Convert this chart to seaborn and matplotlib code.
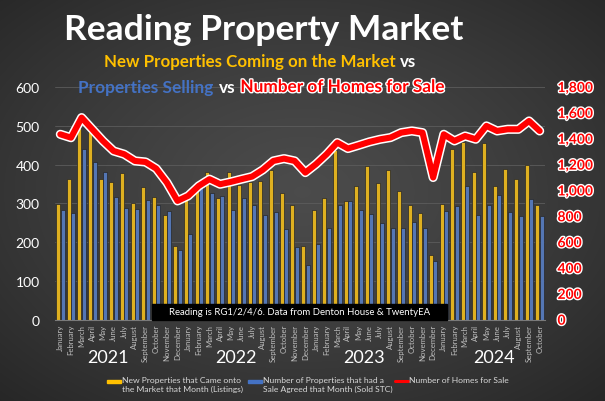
import numpy as np
import pandas as pd
import seaborn as sns
import matplotlib.pyplot as plt
import matplotlib.patheffects as pe
from matplotlib.patches import Rectangle
from matplotlib.lines import Line2D

years = [2021, 2022, 2023, 2024]
month_names = ['January', 'February', 'March', 'April', 'May', 'June', 'July',
               'August', 'September', 'October', 'November', 'December']
year_months = [12, 12, 12, 10]

listings = [299, 363, 493, 484, 363, 355, 379, 301, 343, 316, 271, 189,
            310, 346, 382, 314, 381, 348, 355, 357, 385, 327, 296, 189,
            283, 314, 437, 305, 346, 396, 352, 387, 331, 296, 275, 167,
            298, 441, 458, 381, 456, 345, 388, 362, 398, 296]
sold_stc = [282, 275, 439, 407, 381, 316, 288, 286, 309, 295, 281, 181,
            220, 344, 327, 319, 283, 314, 297, 271, 277, 233, 187, 142,
            196, 237, 297, 305, 283, 273, 250, 236, 236, 251, 236, 152,
            281, 294, 346, 270, 296, 322, 277, 268, 310, 268]
homes_for_sale = [1434, 1408, 1563, 1473, 1383, 1305, 1280, 1228, 1220, 1169, 1061, 919,
                  958, 1035, 1087, 1048, 1066, 1087, 1107, 1159, 1228, 1246, 1228, 1138,
                  1203, 1280, 1370, 1324, 1349, 1375, 1395, 1409, 1447, 1460, 1447, 1100,
                  1434, 1383, 1421, 1396, 1499, 1460, 1473, 1473, 1537, 1460]

keys = [f"{y}-{m + 1:02d}" for y, n in zip(years, year_months) for m in range(n)]
tick_labels = [month_names[m] for n in year_months for m in range(n)]

YELLOW = '#FFC000'
BLUE = '#4472C4'
RED = '#FF0000'

sns.set_theme(style='dark')
plt.rcParams['font.family'] = ['Lato', 'DejaVu Sans']

fig = plt.figure(figsize=(6.05, 4.02), dpi=100)
W, H = 605, 402

# background radial gradient
bg = fig.add_axes([0, 0, 1, 1], zorder=-10)
yy, xx = np.mgrid[0:1:402j, 0:1:605j]
d = np.sqrt(((xx - 0.5) / 0.75) ** 2 + ((yy - 0.48) / 0.75) ** 2)
d = np.clip(d, 0, 1)
shade = 0.295 - 0.15 * d ** 1.3
bg.imshow(np.dstack([shade] * 3), extent=[0, 1, 0, 1], aspect='auto')
bg.axis('off')

ax = fig.add_axes([55 / W, 1 - 320.7 / H, 490 / W, 232.7 / H])
ax.patch.set_alpha(0)

df = pd.DataFrame({'month': keys * 2,
                   'value': listings + sold_stc,
                   'series': ['Listings'] * len(keys) + ['Sold STC'] * len(keys)})
sns.barplot(data=df, x='month', y='value', hue='series', order=keys,
            palette=[YELLOW, BLUE], width=0.84, gap=0.1,
            edgecolor='#262626', linewidth=0.5, legend=False, ax=ax)

ax.set_ylim(0, 600)
ax.set_yticks(range(0, 601, 100))
ax.set_xlim(-0.5, len(keys) - 0.5)
ax.yaxis.grid(True, color='#5c5c5c', lw=0.6)
ax.xaxis.grid(False)
ax.set_axisbelow(True)
for s in ['top', 'left', 'right']:
    ax.spines[s].set_visible(False)
ax.spines['bottom'].set_color('#7a7a7a')
ax.spines['bottom'].set_linewidth(0.8)
ax.set_xlabel('')
ax.set_ylabel('')
ax.set_xticks(range(len(keys)))
ax.set_xticklabels(tick_labels, rotation=90, fontsize=5.6, color='#bfbfbf')
ax.tick_params(axis='x', length=0, pad=3)
ax.tick_params(axis='y', length=0, pad=11, labelsize=10, labelcolor='white')

ax2 = ax.twinx()
sns.lineplot(x=keys, y=homes_for_sale, ax=ax2, color=RED, lw=4.4, sort=False,
             path_effects=[pe.Stroke(linewidth=6.6, foreground='white'), pe.Normal()])
ax2.set_ylim(0, 1800)
ax2.set_yticks(range(0, 1801, 200))
ax2.set_yticklabels([f"{v:,}" for v in range(0, 1801, 200)])
ax2.grid(False)
for s in ax2.spines.values():
    s.set_visible(False)
ax2.set_ylabel('')
ax2.tick_params(axis='y', length=0, pad=9, labelsize=10, labelcolor=RED)
for lbl in ax2.get_yticklabels():
    lbl.set_fontweight('bold')
    lbl.set_path_effects([pe.withStroke(linewidth=2, foreground='white')])
ax.set_xlim(-0.5, len(keys) - 0.5)

# year labels
for x, yr in zip([4.5, 16.5, 28.5, 40.7], years):
    ax.text(x, -0.16, str(yr), transform=ax.get_xaxis_transform(), ha='center',
            va='center', fontsize=13, color='white')

# source box
fig.add_artist(Rectangle((152 / W, 1 - 321 / H), 295 / W, 16 / H,
                         transform=fig.transFigure, color='black', zorder=3))
fig.text(300 / W, 1 - 313 / H, 'Reading is RG1/2/4/6. Data from Denton House & TwentyEA',
         ha='center', va='center', fontsize=6.9, color='white', zorder=4)

# title
fig.text(264 / W, 1 - 30 / H, 'Reading Property Market', ha='center', va='center',
         fontsize=25.5, fontweight='bold', color='white')


def colored_line(parts, cx, cy, size, gap=4):
    texts = []
    for s, c, eff in parts:
        texts.append(fig.text(0, 1 - cy / H, s, color=c, fontsize=size, fontweight='bold',
                              va='center', ha='left', path_effects=eff))
    fig.canvas.draw()
    widths = [t.get_window_extent().width for t in texts]
    x = cx - (sum(widths) + gap * (len(texts) - 1)) / 2
    for t, w in zip(texts, widths):
        t.set_x(x / W)
        x += w + gap


outline = [pe.withStroke(linewidth=2, foreground='white')]
colored_line([('New Properties Coming on the Market', YELLOW, None), ('vs', 'white', None)],
             260, 62, 12.2, gap=5)
colored_line([('Properties Selling', BLUE, None), ('vs', 'white', None),
              ('Number of Homes for Sale', RED, outline)], 262, 88, 12.4, gap=5)

# legend
leg_txt = dict(fontsize=6.1, color='#d9d9d9', va='top', ha='left', linespacing=1.3)
fig.add_artist(Rectangle((107 / W, 1 - 384 / H), 14 / W, 3.5 / H, transform=fig.transFigure,
                         color=YELLOW))
fig.text(122 / W, 1 - 377 / H, 'New Properties that Came onto\nthe Market that Month (Listings)', **leg_txt)
fig.add_artist(Rectangle((248 / W, 1 - 384 / H), 14 / W, 3.5 / H, transform=fig.transFigure,
                         color=BLUE))
fig.text(263 / W, 1 - 377 / H, 'Number of Properties that had a\nSale Agreed that Month (Sold STC)', **leg_txt)
fig.add_artist(Line2D([395 / W, 408 / W], [1 - 382 / H, 1 - 382 / H], transform=fig.transFigure,
                      color=RED, lw=2.2))
fig.text(409 / W, 1 - 377 / H, 'Number of Homes for Sale', **leg_txt)

fig.savefig('out.png', dpi=100)
